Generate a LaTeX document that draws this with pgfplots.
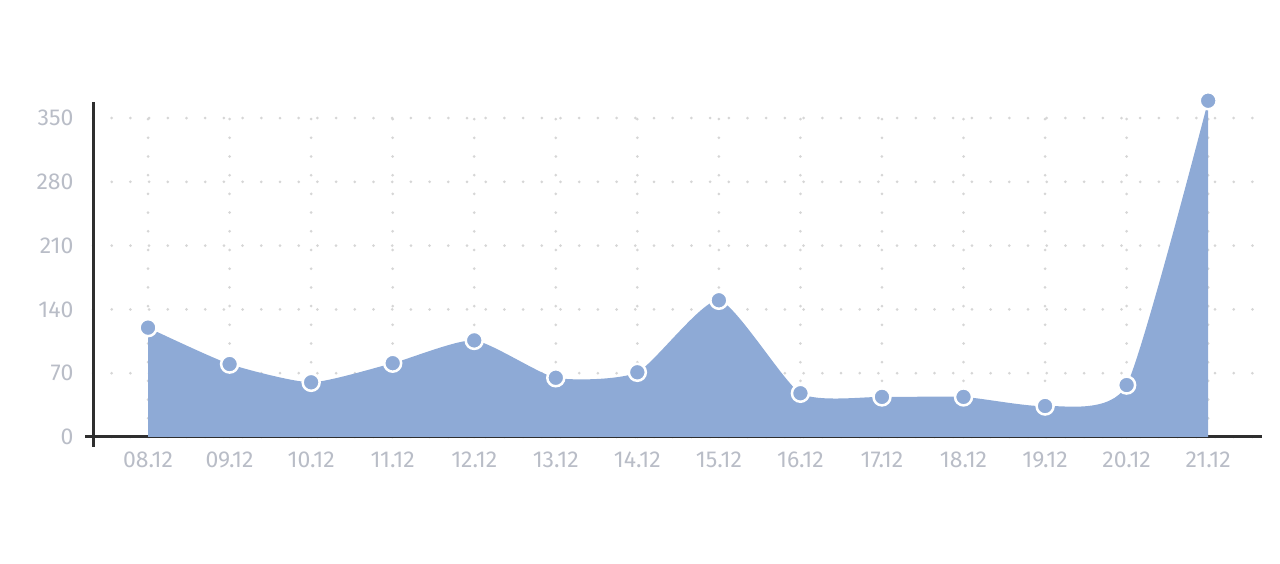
\documentclass[border=0pt]{standalone}
\usepackage{fontspec}
\setmainfont{Fira Sans}
\usepackage{pgfplots}
\pgfplotsset{compat=1.18}
\definecolor{areablue}{HTML}{8EAAD6}
\definecolor{ticklab}{HTML}{B9BDC7}
\definecolor{griddot}{HTML}{D6D6D6}
\definecolor{axisdark}{HTML}{2E2E2E}
\begin{document}
\begin{tikzpicture}[x=1pt,y=1pt]
\useasboundingbox (0,0) rectangle (1280,564);
\begin{axis}[
  at={(93pt,127pt)}, anchor=south west,
  scale only axis, width=1169pt, height=335pt,
  xmin=-0.675, xmax=13.66, ymin=0, ymax=367.6,
  axis x line*=bottom, axis y line*=left,
  x axis line style={line width=3pt, axisdark, shorten <=-8pt, -},
  y axis line style={line width=3pt, axisdark, shorten <=-10pt, -},
  xtick={0,...,13},
  xticklabels={08.12,09.12,10.12,11.12,12.12,13.12,14.12,15.12,16.12,17.12,18.12,19.12,20.12,21.12},
  ytick={0,70,140,210,280,350},
  major tick length=0pt,
  xmajorgrids, ymajorgrids,
  grid style={griddot, line width=3pt, line cap=round, dash pattern=on 0pt off 18.7pt},
  tick label style={ticklab, font=\fontsize{23}{27}\selectfont},
  /pgf/number format/assume math mode=true,
  xticklabel style={yshift=-11pt},
  yticklabel style={xshift=-16pt},
  clip=false,
  axis on top=false,
]
\addplot[fill=areablue, draw=none, smooth, tension=0.35] table {
x y
0 120
1 80
2 60
3 81
4 106
5 65
6 71
7 150
8 48
9 44
10 44
11 34
12 57
13 369
} \closedcycle;
\addplot[only marks, mark=*, mark size=8.5pt, mark options={fill=areablue, draw=white, line width=2.5pt}] table {
x y
0 120
1 80
2 60
3 81
4 106
5 65
6 71
7 150
8 48
9 44
10 44
11 34
12 57
13 369
};
\end{axis}
\end{tikzpicture}
\end{document}
